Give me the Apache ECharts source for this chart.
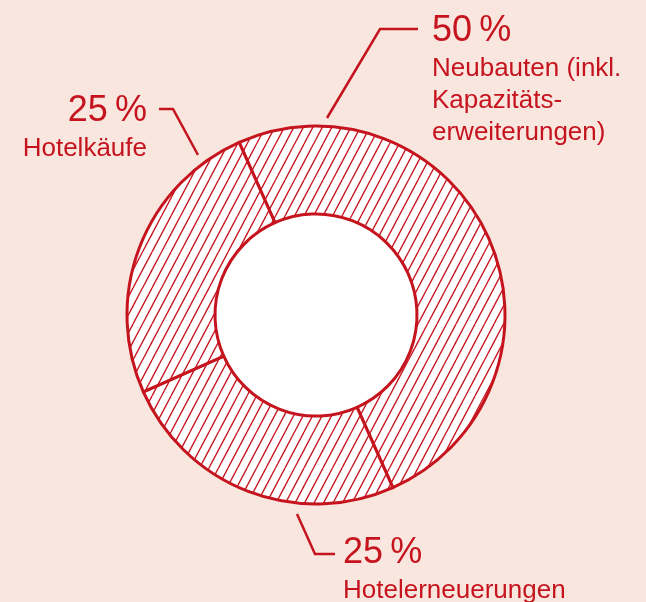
<!DOCTYPE html>
<html><head><meta charset="utf-8">
<script src="https://cdn.jsdelivr.net/npm/echarts@6/dist/echarts.min.js"></script>
<style>html,body{margin:0;padding:0;background:#f9e6de}#c{width:646px;height:602px}</style>
</head><body><div id="c"></div>
<script>
const categories = ['Neubauten (inkl.\nKapazitäts-\nerweiterungen)', 'Hotelerneuerungen', 'Hotelkäufe'];
const values = [50, 25, 25];
const percentLabels = ['50\u2009%', '25\u2009%', '25\u2009%'];

const RED = '#c6141f';
const BG = '#f9e6de';
const FONT = '"Liberation Sans", Arial, sans-serif';

function hatchCanvas() {
  const w = 19, h = 36, step = 9.5;
  const c = document.createElement('canvas');
  c.width = w; c.height = h;
  const g = c.getContext('2d');
  g.fillStyle = '#ffffff'; g.fillRect(0, 0, w, h);
  g.strokeStyle = RED; g.lineWidth = 1.3;
  for (let o = -2 * step; o <= 2 * step; o += step) {
    g.beginPath(); g.moveTo(o, h); g.lineTo(o + w, 0); g.stroke();
  }
  return c;
}

const CX = 316, CY = 315;
const labelPos = [
  { x: 432, y: 9, align: 'left', line: [[327, 118], [380, 29], [418, 29]] },
  { x: 343, y: 531, align: 'left', line: [[297, 514], [315, 554], [335, 554]] },
  { x: 147, y: 89, align: 'right', line: [[198, 155], [173, 109], [159, 109]] }
];

const chart = echarts.init(document.getElementById('c'), null, { renderer: 'canvas' });
const pattern = { image: hatchCanvas(), repeat: 'repeat' };

chart.setOption({
  backgroundColor: BG,
  animation: false,
  series: [{
    type: 'pie',
    center: [CX, CY],
    radius: [0, 101],
    silent: true,
    z: 1,
    label: { show: false },
    labelLine: { show: false },
    emphasis: { disabled: true },
    itemStyle: { color: '#ffffff', borderWidth: 0 },
    data: [{ name: 'hole', value: 1 }]
  }, {
    type: 'pie',
    center: [CX, CY],
    radius: [101, 189],
    startAngle: 114,
    clockwise: true,
    silent: true,
    z: 2,
    avoidLabelOverlap: false,
    itemStyle: { color: pattern, borderColor: RED, borderWidth: 3 },
    emphasis: { disabled: true },
    data: categories.map((n, i) => ({ name: n, value: values[i] })),
    label: {
      show: true,
      color: RED,
      fontFamily: FONT,
      formatter: p => `{a|${percentLabels[p.dataIndex]}}\n{b|${p.name}}`,
      rich: {
        a: { fontSize: 36, lineHeight: 44, color: RED, fontFamily: FONT },
        b: { fontSize: 26, lineHeight: 32, color: RED, fontFamily: FONT }
      }
    },
    labelLine: { show: true, lineStyle: { color: RED, width: 2.5 } },
    labelLayout: function (params) {
      const L = labelPos[params.dataIndex];
      return { x: L.x, y: L.y, align: L.align, verticalAlign: 'top', labelLinePoints: L.line };
    }
  }]
});
</script>
</body></html>
